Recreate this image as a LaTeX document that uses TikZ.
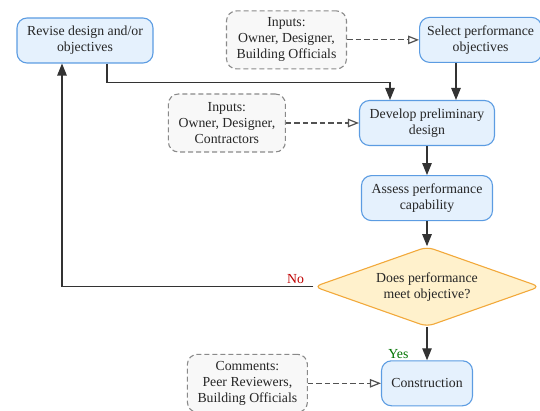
\documentclass[tikz,border=0pt]{standalone}
\usepackage{fontspec}
\setmainfont{Liberation Serif}
\usetikzlibrary{arrows.meta, positioning, shapes.geometric}
\definecolor{stepfill}{HTML}{E5F1FD}
\definecolor{stepline}{HTML}{5C9CE2}
\definecolor{decfill}{HTML}{FFF1CC}
\definecolor{decline}{HTML}{F2A93B}
\definecolor{notefill}{HTML}{F8F8F8}
\definecolor{noteline}{HTML}{8A8A8A}
\definecolor{wire}{HTML}{333333}
\tikzset{
  blk/.style={
    draw=stepline, fill=stepfill, rounded corners=10pt, line width=1.1pt,
    minimum height=45pt, align=center, inner sep=2pt,
    font=\rmfamily\fontsize{13.8}{16}\selectfont, text=black!85
  },
  note/.style={blk, draw=noteline, fill=notefill,
    dash pattern=on 5pt off 3pt, minimum height=58pt, minimum width=120pt},
  decide/.style={blk, diamond, draw=decline, fill=decfill,
    rounded corners=7pt, aspect=2.8, minimum width=226pt, minimum height=80pt},
  sig/.style={-{Triangle[length=12pt,width=9.5pt]}, line width=1.2pt, wire},
  inp/.style={-{Triangle[open,length=11pt,width=8.5pt]}, line width=1.2pt,
    wire!85, dash pattern=on 5.5pt off 3pt},
  lbl/.style={font=\rmfamily\fontsize{13.8}{16}\selectfont}
}

\begin{document}
\begin{tikzpicture}[node distance=25pt]

  \useasboundingbox (0pt,0pt) rectangle (540pt,-411pt);

  \node[blk, minimum width=136pt] (rev) at (85pt,-40.5pt) {Revise design and/or\\objectives};
  \node[blk, minimum width=135pt] (dev) at (427pt,-123pt) {Develop preliminary\\design};
  \node[blk, minimum width=122pt, above right=37pt and -76pt of dev] (sel) {Select performance\\objectives};
  \node[blk, minimum width=131pt, below=29pt of dev] (ass) {Assess performance\\capability};
  \node[decide, below=25pt of ass] (dec) {Does performance\\meet objective?};
  \node[blk, minimum width=91pt, below=33pt of dec] (con) {Construction};

  \node[note, left=72pt of sel] (in1) {Inputs:\\Owner, Designer,\\Building Officials};
  \node[note, minimum width=117pt, left=73pt of dev] (in2) {Inputs:\\Owner, Designer,\\Contractors};
  \node[note, left=73pt of con] (cmt) {Comments:\\Peer Reviewers,\\Building Officials};

  \draw[inp] (in1) -- (sel);
  \draw[inp] (in2) -- (dev);
  \draw[inp] (cmt) -- (con);

  \draw[sig] ([xshift=29pt]dev.north |- sel.south) -- ([xshift=29pt]dev.north);
  \draw[sig] ([xshift=22pt]rev.south) -- ++(0,-19pt) -| ([xshift=-37pt]dev.north);
  \draw[sig] (dev) -- (ass);
  \draw[sig] (ass) -- (dec);
  \draw[sig] (dec) -- (con);
  \draw[sig] (dec.west) -| ([xshift=-23pt]rev.south);

  \node[lbl, text=red!75!black, above left=0pt and 6pt of dec.west] {No};
  \node[lbl, text=green!45!black, above left=-2pt and 15pt of con.north] {Yes};

\end{tikzpicture}
\end{document}
